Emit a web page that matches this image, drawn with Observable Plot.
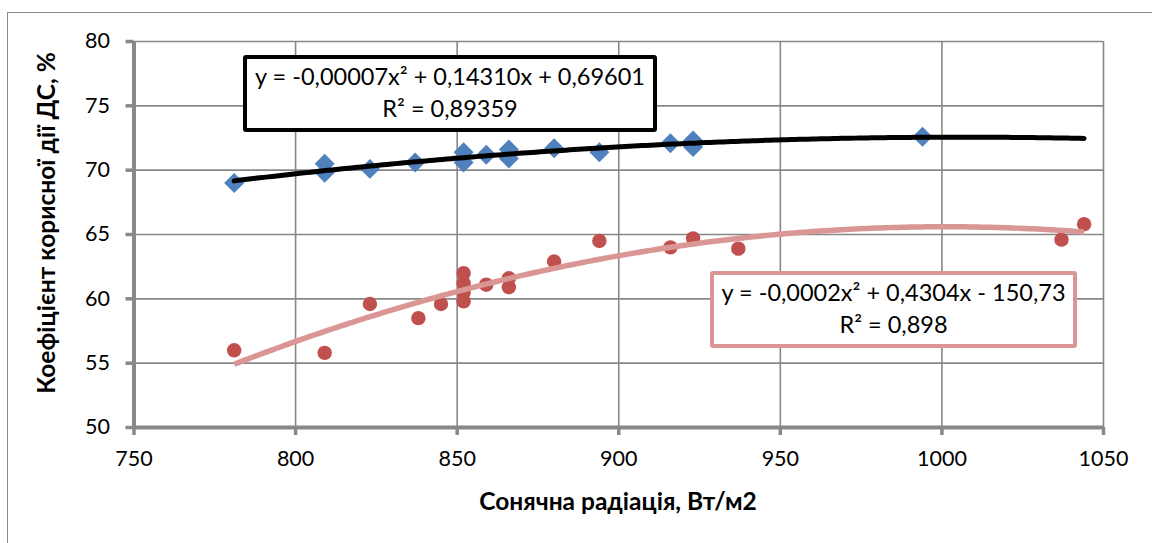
<!DOCTYPE html>
<html>
<head>
<meta charset="utf-8">
<script src="https://cdn.jsdelivr.net/npm/d3@7"></script>
<script src="https://cdn.jsdelivr.net/npm/@observablehq/plot@0.6"></script>
<style>
  html, body { margin: 0; padding: 0; background: #fff; overflow: hidden; }
  #wrap { position: relative; width: 1152px; height: 543px; overflow: hidden; font-family: Lato, "Open Sans", sans-serif; }
  #frame { position: absolute; left: 7px; top: 12px; width: 1300px; height: 700px; border: 1px solid #8a8a8a; box-sizing: border-box; }
  #chart { position: absolute; left: 0; top: 0; }
  .eq { position: absolute; box-sizing: border-box; background: #fff; border-radius: 3px; text-align: center; font-size: 23.5px; line-height: 32px; color: #000; padding-top: 1px; white-space: nowrap; }
  #eqBlue { left: 243px; top: 55px; width: 414px; height: 77px; border: 4px solid #000; }
  #eqRed { left: 710px; top: 271px; width: 367px; height: 77px; border: 4px solid rgb(217,150,148); }
  .lab { position: absolute; font-weight: bold; font-size: 24.5px; white-space: nowrap; color: #000; }
  #ylab { left: 45px; top: 223px; transform: translate(-50%, -50%) rotate(-90deg); }
  #xlab { left: 618px; top: 500px; transform: translate(-50%, -50%); }
</style>
</head>
<body>
<div id="wrap">
  <div id="frame"></div>
  <div id="chart"></div>
  <div class="eq" id="eqBlue"></div>
  <div class="eq" id="eqRed"></div>
  <div class="lab" id="ylab"></div>
  <div class="lab" id="xlab"></div>
</div>
<script>
// ---- data ----
const blueX = [781, 809, 809, 823, 837, 852, 852, 859, 866, 866, 880, 894, 916, 923, 923, 994];
const blueY = [69.0, 70.5, 69.8, 70.1, 70.6, 71.4, 70.6, 71.2, 71.6, 70.9, 71.7, 71.4, 72.1, 72.3, 71.8, 72.6];
const redX = [781, 809, 823, 838, 845, 852, 852, 852, 852, 859, 866, 866, 880, 894, 916, 923, 937, 1037, 1044];
const redY = [56.0, 55.8, 59.6, 58.5, 59.6, 62.0, 61.2, 60.5, 59.8, 61.1, 61.6, 60.9, 62.9, 64.5, 64.0, 64.7, 63.9, 64.6, 65.8];
const blueForecastForward = 50; // trendline forward forecast of the blue series
const xTicks = [750, 800, 850, 900, 950, 1000, 1050];
const yTicks = [50, 55, 60, 65, 70, 75, 80];
const xDomain = [750, 1050];
const yDomain = [50, 80];
const eqBlueLines = ["y = -0,00007x² + 0,14310x + 0,69601", "R² = 0,89359"];
const eqRedLines = ["y = -0,0002x² + 0,4304x - 150,73", "R² = 0,898"];
const xLabel = "Сонячна радіація, Вт/м2";
const yLabel = "Коефіцієнт корисної дії ДС, %";

// ---- quadratic least-squares trend (as the spreadsheet trendline) ----
function quadFit(xs, ys) {
  const m = d3.mean(xs);
  const S = [0,0,0,0,0], T = [0,0,0];
  xs.forEach((x, i) => {
    const u = x - m;
    for (let k = 0; k < 5; k++) S[k] += Math.pow(u, k);
    for (let k = 0; k < 3; k++) T[k] += ys[i] * Math.pow(u, k);
  });
  const A = [[S[0], S[1], S[2], T[0]], [S[1], S[2], S[3], T[1]], [S[2], S[3], S[4], T[2]]];
  for (let c = 0; c < 3; c++) {
    for (let r = c + 1; r < 3; r++) {
      const f = A[r][c] / A[c][c];
      for (let k = c; k < 4; k++) A[r][k] -= f * A[c][k];
    }
  }
  const b = [0,0,0];
  for (let r = 2; r >= 0; r--) {
    let s = A[r][3];
    for (let k = r + 1; k < 3; k++) s -= A[r][k] * b[k];
    b[r] = s / A[r][r];
  }
  return x => b[0] + b[1] * (x - m) + b[2] * (x - m) * (x - m);
}
function trend(xs, ys, x0, x1) {
  const f = quadFit(xs, ys);
  return d3.range(x0, x1 + 0.001, (x1 - x0) / 200).map(x => ({x, y: f(x)}));
}

const blue = blueX.map((x, i) => ({x, y: blueY[i]}));
const red = redX.map((x, i) => ({x, y: redY[i]}));
const blueTrend = trend(blueX, blueY, d3.min(blueX), d3.max(blueX) + blueForecastForward);
const redTrend = trend(redX, redY, d3.min(redX), d3.max(redX));

const gray = "#888888";
const chart = Plot.plot({
  width: 1152,
  height: 543,
  marginLeft: 133.5,
  marginRight: 49,
  marginTop: 41,
  marginBottom: 116,
  style: { fontFamily: "Lato, 'Open Sans', sans-serif", fontSize: "21.5px", background: "transparent", overflow: "visible" },
  x: { domain: xDomain },
  y: { domain: yDomain },
  marks: [
    Plot.gridX(xTicks, { stroke: gray, strokeOpacity: 1, strokeWidth: 1.6 }),
    Plot.gridY(yTicks, { stroke: gray, strokeOpacity: 1, strokeWidth: 1.6 }),
    Plot.axisX(xTicks, { tickSize: 8, tickPadding: 15, stroke: gray, strokeWidth: 3.5, fill: "#000", tickFormat: d => String(d), label: null, fontSize: 21.5 }),
    Plot.axisY(yTicks, { tickSize: 8, tickPadding: 16, stroke: gray, strokeWidth: 3.5, fill: "#000", tickFormat: d => String(d), label: null, fontSize: 21.5 }),
    Plot.ruleX([xDomain[0]], { stroke: gray, strokeWidth: 4 }),
    Plot.ruleY([yDomain[0]], { stroke: gray, strokeWidth: 4 }),
    Plot.dot(red, { x: "x", y: "y", r: 7.2, symbol: "circle", fill: "#C0504D", stroke: "none" }),
    Plot.dot(blue, { x: "x", y: "y", r: 9, symbol: "diamond2", fill: "#4F81BD", stroke: "none" }),
    Plot.line(redTrend, { x: "x", y: "y", stroke: "rgb(217,150,148)", strokeWidth: 5.5, strokeLinecap: "butt" }),
    Plot.line(blueTrend, { x: "x", y: "y", stroke: "#000", strokeWidth: 5, strokeLinecap: "round" })
  ]
});
document.getElementById("chart").appendChild(chart);

document.getElementById("eqBlue").innerHTML = eqBlueLines.map(s => `<div>${s}</div>`).join("");
document.getElementById("eqRed").innerHTML = eqRedLines.map(s => `<div>${s}</div>`).join("");
document.getElementById("xlab").textContent = xLabel;
document.getElementById("ylab").textContent = yLabel;
</script>
</body>
</html>
